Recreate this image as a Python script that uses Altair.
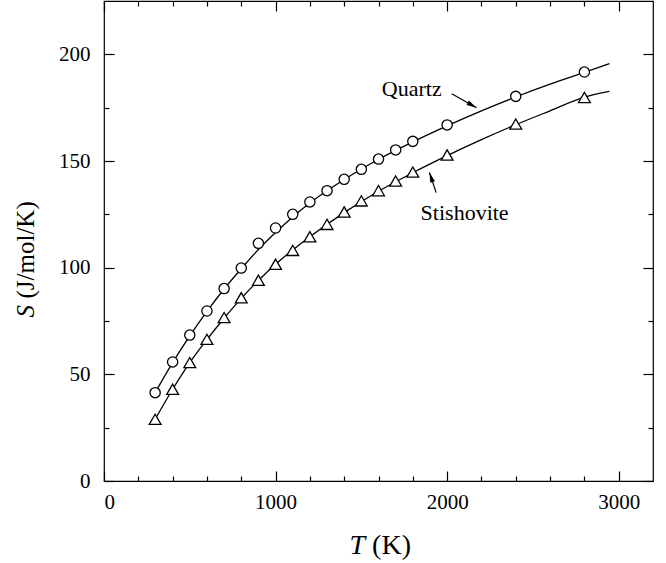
import altair as alt
import pandas as pd

# ---------------- data ----------------
T_points = [298, 400, 500, 600, 700, 800, 900, 1000, 1100, 1200, 1300, 1400,
            1500, 1600, 1700, 1800, 2000, 2400, 2800]
S_quartz = [41.4, 55.8, 68.4, 79.7, 90.2, 99.8, 111.4, 118.6, 125.0, 130.8,
            136.1, 141.4, 146.1, 150.9, 155.2, 159.2, 166.9, 180.3, 191.7]
S_stishovite = [28.9, 43.0, 55.5, 66.4, 76.6, 85.9, 94.1, 101.6, 108.1, 114.5,
                120.3, 126.1, 131.3, 136.1, 140.6, 144.8, 152.8, 167.3, 179.8]

T_fit = [298, 400, 500, 600, 700, 800, 900, 1000, 1100, 1200, 1400, 1600,
         1800, 2000, 2200, 2400, 2600, 2800, 2946]
S_fit_quartz = [41.4, 55.5, 68.0, 79.5, 90.0, 99.5, 108.5, 116.5, 123.8, 130.3,
                141.3, 150.8, 159.0, 166.5, 173.5, 180.0, 186.0, 191.5, 195.6]
S_fit_stishovite = [28.9, 43.0, 55.5, 66.3, 76.3, 85.6, 94.0, 101.6, 108.3, 114.5,
                    125.8, 135.8, 144.5, 152.5, 160.0, 167.0, 173.5, 179.9, 182.6]

x_major = [0, 1000, 2000, 3000]
x_minor = [200, 400, 600, 800, 1200, 1400, 1600, 1800, 2200, 2400, 2600, 2800]
y_major = [0, 50, 100, 150, 200]
y_minor = [25, 75, 125, 175]

ann_labels = ["Quartz", "Stishovite"]
ann_T = [1794, 2102]
ann_S = [183.7, 125.8]

arrow_id = ["q", "s"]
arrow_T_start = [2027, 1936]
arrow_S_start = [181.5, 135.2]
arrow_T_end = [2171, 1897]
arrow_S_end = [175.0, 144.6]
arrow_angle = [119.3, 341.5]

# ---------------- tables ----------------
q_fit = pd.DataFrame({"T": T_fit, "S": S_fit_quartz})
s_fit = pd.DataFrame({"T": T_fit, "S": S_fit_stishovite})
q_pts = pd.DataFrame({"T": T_points, "S": S_quartz})
s_pts = pd.DataFrame({"T": T_points, "S": S_stishovite})
ann = pd.DataFrame({"label": ann_labels, "T": ann_T, "S": ann_S})
shafts = pd.DataFrame({
    "id": arrow_id + arrow_id,
    "T": arrow_T_start + arrow_T_end,
    "S": arrow_S_start + arrow_S_end,
})
heads = pd.DataFrame({"T": arrow_T_end, "S": arrow_S_end, "angle": arrow_angle})

FONT = "Liberation Serif"
xs = alt.Scale(domain=[0, 3200], nice=False, zero=False)
ys = alt.Scale(domain=[0, 225], nice=False, zero=False)

common = dict(grid=False, domain=False)

# axes
x_lab = alt.Axis(orient="bottom", values=x_major, format="d", ticks=False, tickSize=0,
                 labelPadding=10, labelFont=FONT, labelFontSize=21,
                 title="(K)", titleFont=FONT, titleFontSize=28,
                 titleFontWeight="normal", titleX=267.6, titleY=72,
                 titleAlign="left", titleBaseline="alphabetic", **common)
y_lab = alt.Axis(orient="left", values=y_major, format="d", ticks=False, tickSize=0,
                 labelPadding=14, labelFont=FONT, labelFontSize=21,
                 title="(J/mol/K)", titleFont=FONT, titleFontSize=25,
                 titleFontWeight="normal", titleAngle=270, titleX=-79,
                 titleY=297, titleAlign="left", titleBaseline="middle", **common)
x_title = alt.Axis(orient="bottom", labels=False, ticks=False, title="T",
                   titleFont=FONT, titleFontSize=28, titleFontWeight="normal",
                   titleFontStyle="italic", titleX=245, titleY=72,
                   titleAlign="left", titleBaseline="alphabetic", **common)
y_title = alt.Axis(orient="left", labels=False, ticks=False, title="S",
                   titleFont=FONT, titleFontSize=25, titleFontWeight="normal",
                   titleFontStyle="italic", titleAngle=270, titleX=-79,
                   titleY=316, titleAlign="left", titleBaseline="middle", **common)


def tick_axis(orient, vals, size):
    return alt.Axis(orient=orient, values=vals, labels=False, ticks=True,
                    tickSize=size, offset=-size, title=None, **common)


def enc(xaxis, yaxis):
    return dict(
        x=alt.X("T:Q", scale=xs, axis=xaxis),
        y=alt.Y("S:Q", scale=ys, axis=yaxis),
    )


line_q = alt.Chart(q_fit).mark_line(color="black", strokeWidth=1.3,
                                     interpolate="monotone").encode(**enc(x_lab, y_lab))
line_s = alt.Chart(s_fit).mark_line(color="black", strokeWidth=1.3,
                                     interpolate="monotone").encode(**enc(x_title, y_title))
pts_q = alt.Chart(q_pts).mark_point(shape="circle", size=105, filled=False,
                                    fill="white", fillOpacity=1, stroke="black",
                                    strokeWidth=1.3, opacity=1).encode(
    **enc(tick_axis("bottom", x_major, 10), tick_axis("left", y_major, 10)))
pts_s = alt.Chart(s_pts).mark_point(shape="triangle-up", size=140, filled=False,
                                    fill="white", fillOpacity=1, stroke="black",
                                    strokeWidth=1.3, opacity=1).encode(
    **enc(tick_axis("bottom", x_minor, 5), tick_axis("left", y_minor, 5)))
texts = alt.Chart(ann).mark_text(font=FONT, fontSize=22, color="black",
                                 align="center", baseline="middle").encode(
    text="label:N",
    **enc(tick_axis("top", x_major, 10), tick_axis("right", y_major, 10)))
shaft = alt.Chart(shafts).mark_line(color="black", strokeWidth=1.2).encode(
    detail="id:N",
    **enc(tick_axis("top", x_minor, 5), tick_axis("right", y_minor, 5)))
head = alt.Chart(heads).mark_point(shape="M0,0L0.5,2L-0.5,2Z", filled=True,
                                   color="black", size=100, opacity=1).encode(
    angle=alt.Angle("angle:Q", scale=None),
    **enc(None, None))

chart = alt.layer(line_q, line_s, pts_q, pts_s, texts, shaft, head).resolve_axis(
    x="independent", y="independent"
).properties(
    width=549, height=480,
    padding={"left": 104, "top": 1, "right": 13, "bottom": 82},
    autosize=alt.AutoSizeParams(type="none"),
    background="white",
).configure(
    font=FONT
).configure_view(
    stroke="black", strokeWidth=1.2
).configure_axis(
    tickColor="black", tickWidth=1.2, labelColor="black", titleColor="black",
    labelFont=FONT, titleFont=FONT
).configure_text(
    font=FONT
)

chart.save("out.html", embed_options={"renderer": "svg", "actions": False})
